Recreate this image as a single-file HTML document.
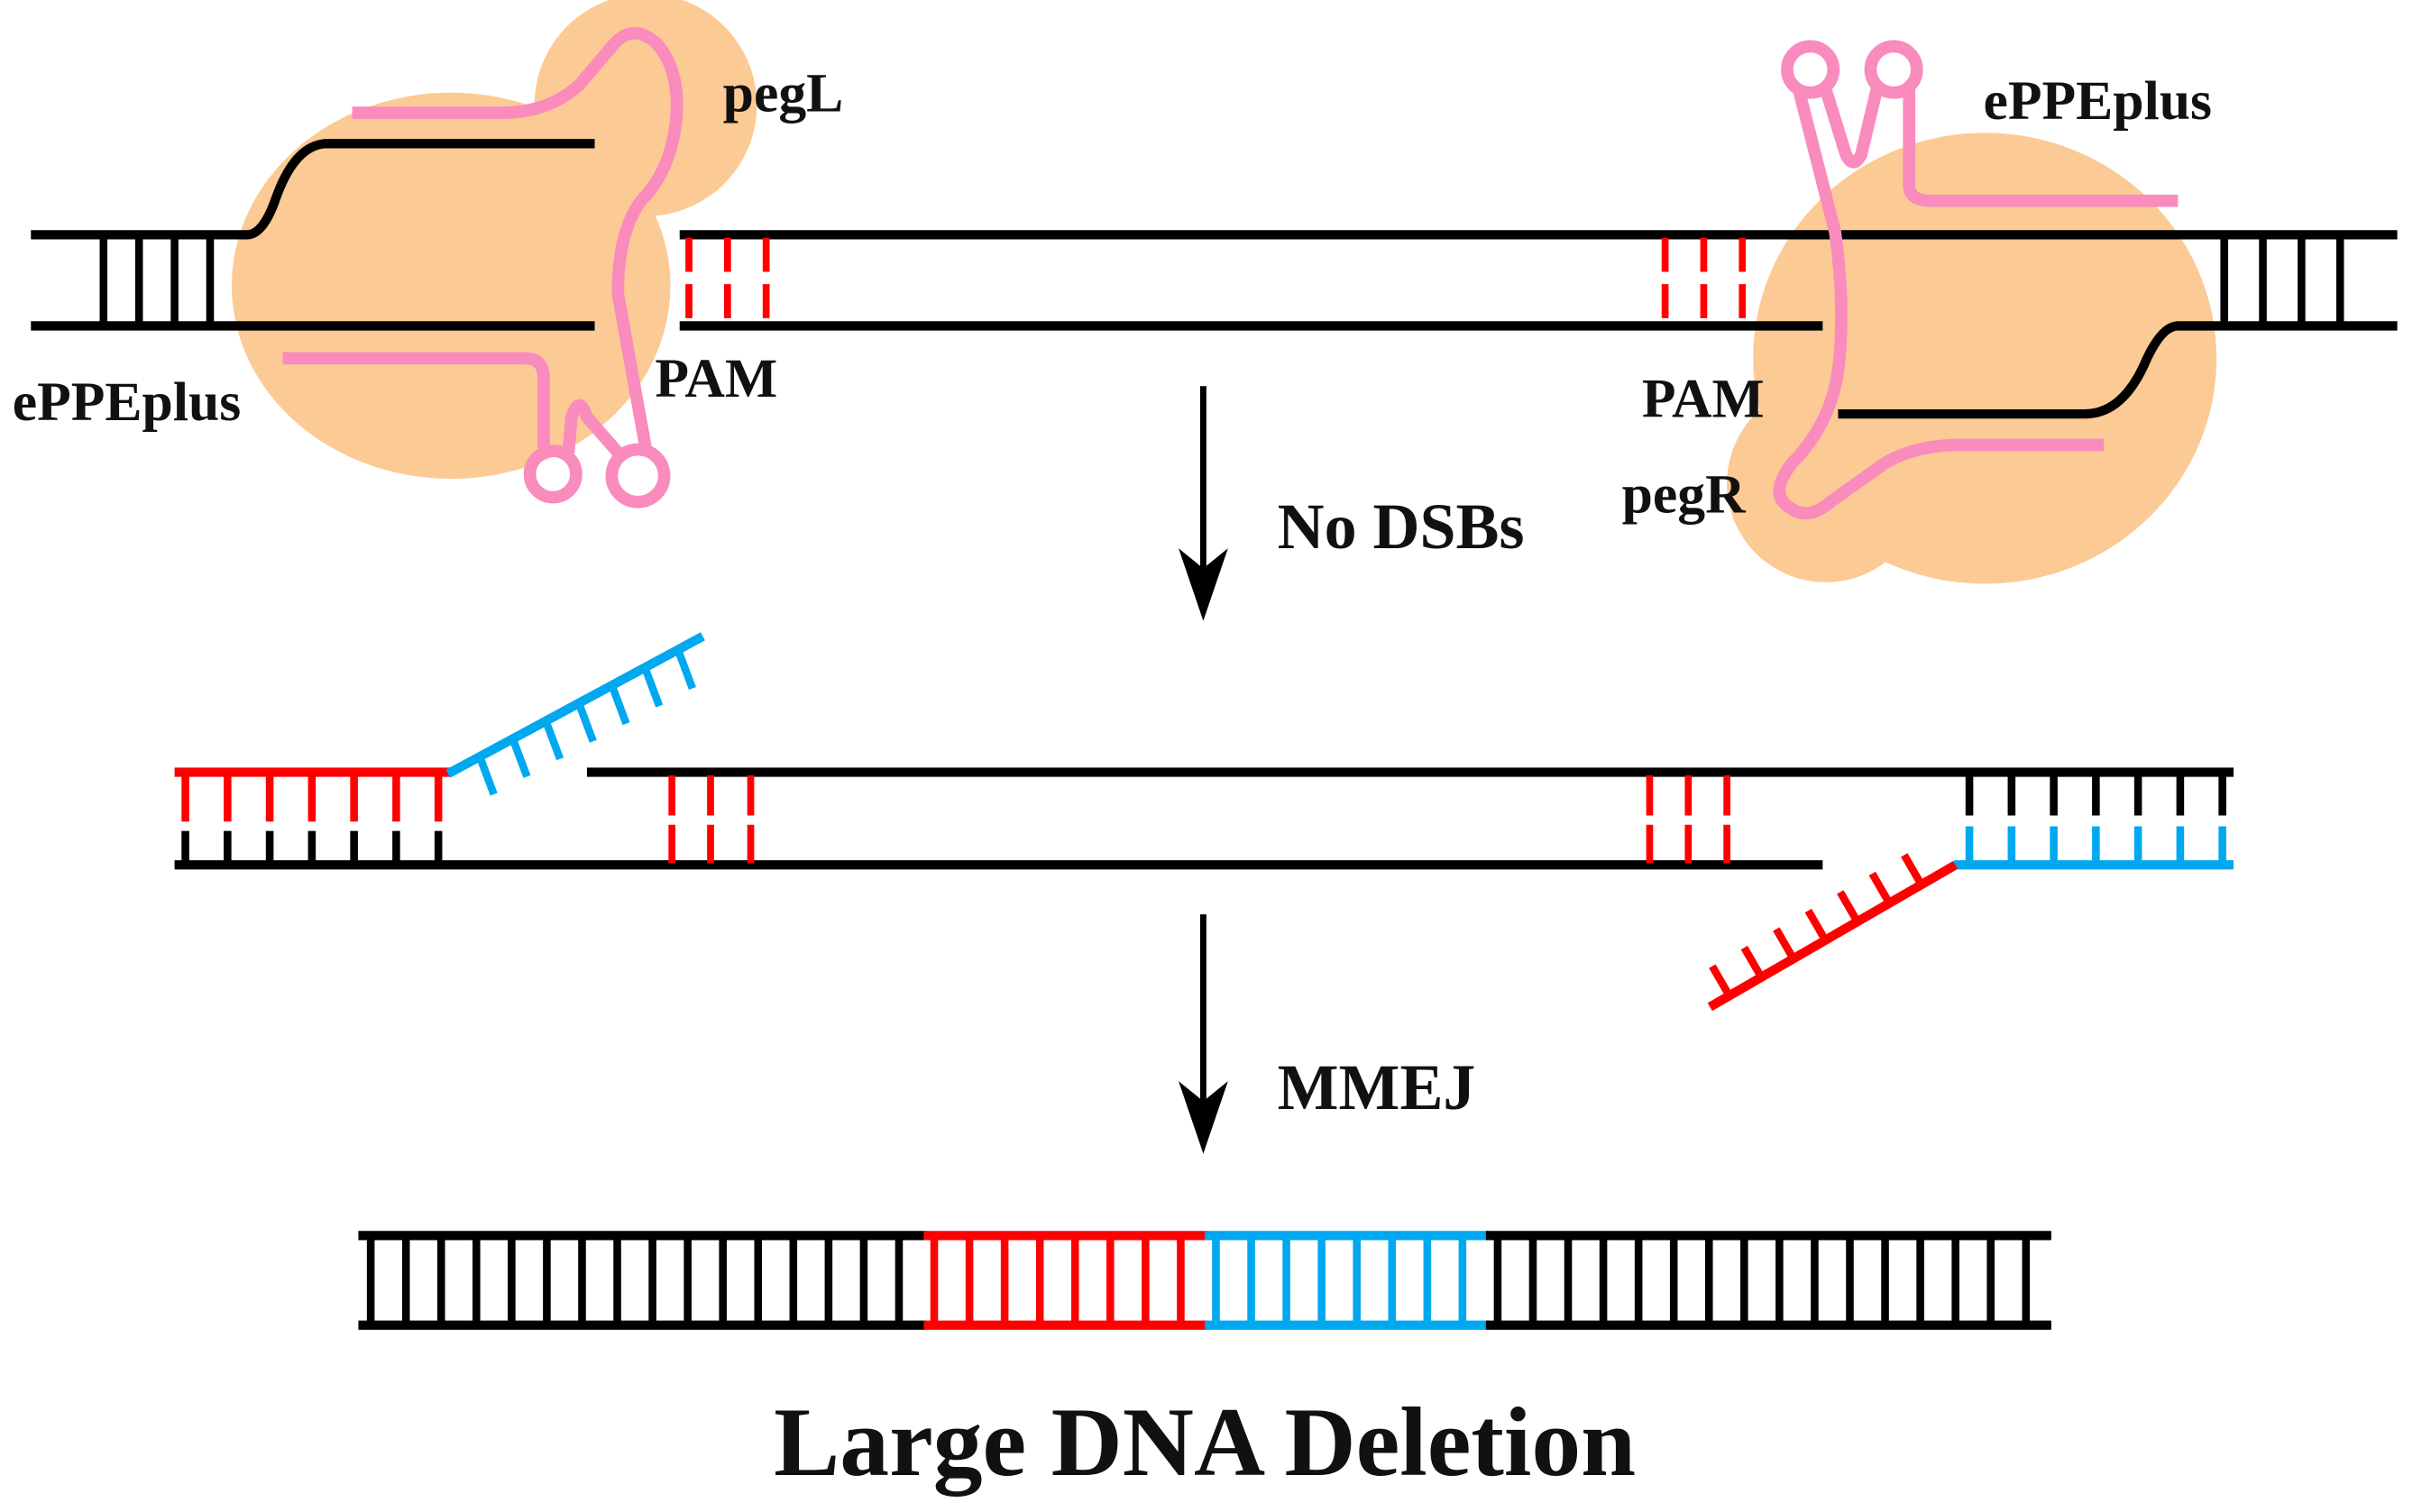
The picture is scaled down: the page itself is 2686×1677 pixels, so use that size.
<!DOCTYPE html>
<html><head><meta charset="utf-8"><style>
html,body{margin:0;padding:0;background:#fff;}
svg{display:block;}
text{font-family:"Liberation Serif",serif;font-weight:bold;fill:#111;}
</style></head><body>
<svg id="s" width="2686" height="1677" viewBox="0 0 1568 979" xmlns="http://www.w3.org/2000/svg">
<g fill="#FCCA94">
<ellipse cx="292" cy="185" rx="142" ry="125"/>
<circle cx="418" cy="68" r="72"/>
<ellipse cx="1285" cy="232" rx="150" ry="146"/>
<circle cx="1182" cy="313" r="64"/>
</g>
<g stroke="#000" stroke-width="6" fill="none">
<path d="M20 152 H160 Q170 152 178 130 Q190 95 210 93 H385"/>
<line x1="20" y1="211" x2="385" y2="211"/>
<line x1="440" y1="152" x2="1552" y2="152"/>
<line x1="440" y1="211" x2="1180" y2="211"/>
<path d="M1552 211 H1410 Q1400 211 1390 232 Q1375 268 1350 268 H1190"/>
</g>
<g id="toprungs" stroke="#000" stroke-width="5"></g>
<g stroke="#f00" stroke-width="4.5" stroke-dasharray="22,8">
<line x1="446" y1="154" x2="446" y2="210"/><line x1="471" y1="154" x2="471" y2="210"/><line x1="496" y1="154" x2="496" y2="210"/>
<line x1="1078" y1="154" x2="1078" y2="210"/><line x1="1103" y1="154" x2="1103" y2="210"/><line x1="1128" y1="154" x2="1128" y2="210"/>
</g>
<g stroke="#F98BBD" stroke-width="8" fill="none" stroke-linecap="butt">
<path d="M228 73 H325 Q355 73 375 55 L398 28 Q410 15 425 28 Q440 45 438 75 Q435 110 415 130 Q400 150 400 190 L418 290"/>
<path d="M183 232 H340 Q352 232 352 245 V290"/>
<circle cx="358" cy="307" r="15"/>
<path d="M368 293 L370 270 Q375 255 380 270 L400 293"/>
<circle cx="413" cy="308" r="17"/>
<path d="M1236 92 V120 Q1236 130 1250 130 H1410"/>
<circle cx="1172" cy="45" r="15"/>
<circle cx="1226" cy="45" r="15"/>
<path d="M1182 58 L1195 100 Q1200 110 1205 100 L1215 58"/>
<path d="M1236 58 V95"/>
<path d="M1165 60 L1188 150 Q1195 200 1190 240 Q1185 275 1160 300 Q1145 320 1158 328 Q1170 338 1185 325 L1220 300 Q1240 288 1270 288 H1362"/>
</g>
<text x="468" y="72" font-size="36">pegL</text>
<text x="1284" y="77" font-size="36">ePPEplus</text>
<text x="8" y="272" font-size="36">ePPEplus</text>
<text x="424" y="257" font-size="36">PAM</text>
<text x="1063" y="270" font-size="36">PAM</text>
<text x="1050" y="332" font-size="36">pegR</text>
<g stroke="#000" stroke-width="4"><line x1="779" y1="250" x2="779" y2="370"/><line x1="779" y1="592" x2="779" y2="715"/></g>
<path d="M763 355 L779 402 L795 355 L779 368Z" fill="#000"/>
<path d="M763 700 L779 747 L795 700 L779 713Z" fill="#000"/>
<text x="827" y="355" font-size="42">No DSBs</text>
<text x="827" y="718" font-size="42">MMEJ</text>
<g stroke-width="6" fill="none">
<line x1="113" y1="500" x2="292" y2="500" stroke="#f00"/>
<line x1="290" y1="501" x2="455" y2="412" stroke="#00A8F0"/>
<line x1="113" y1="560" x2="1180" y2="560" stroke="#000"/>
<line x1="380" y1="500" x2="1446" y2="500" stroke="#000"/>
<line x1="1265" y1="560" x2="1446" y2="560" stroke="#00A8F0"/>
<line x1="1266" y1="560" x2="1107" y2="652" stroke="#f00"/>
</g>
<g id="midrungs" stroke-width="5"></g>
<g stroke="#f00" stroke-width="4.5" stroke-dasharray="26,6">
<line x1="435" y1="502" x2="435" y2="559"/><line x1="460" y1="502" x2="460" y2="559"/><line x1="486" y1="502" x2="486" y2="559"/>
<line x1="1068" y1="502" x2="1068" y2="559"/><line x1="1093" y1="502" x2="1093" y2="559"/><line x1="1118" y1="502" x2="1118" y2="559"/>
</g>
<g stroke-width="6">
<line x1="232" y1="800" x2="600" y2="800" stroke="#000"/><line x1="232" y1="858" x2="600" y2="858" stroke="#000"/>
<line x1="598" y1="800" x2="782" y2="800" stroke="#f00"/><line x1="598" y1="858" x2="782" y2="858" stroke="#f00"/>
<line x1="780" y1="800" x2="964" y2="800" stroke="#00A8F0"/><line x1="780" y1="858" x2="964" y2="858" stroke="#00A8F0"/>
<line x1="962" y1="800" x2="1328" y2="800" stroke="#000"/><line x1="962" y1="858" x2="1328" y2="858" stroke="#000"/>
</g>
<g id="botrungs" stroke-width="5"></g>
<text x="780" y="955" font-size="64" text-anchor="middle">Large DNA Deletion</text>
</svg>
<script>
var NS="http://www.w3.org/2000/svg";
function L(g,x1,y1,x2,y2,c){var l=document.createElementNS(NS,"line");l.setAttribute("x1",x1);l.setAttribute("y1",y1);l.setAttribute("x2",x2);l.setAttribute("y2",y2);if(c)l.setAttribute("stroke",c);document.getElementById(g).appendChild(l);}
[67,90,113,136,1440,1465,1490,1515].forEach(function(x){L("toprungs",x,152,x,211);});
for(var i=0;i<7;i++){var x=120+i*27.3;L("midrungs",x,500,x,532,"#f00");L("midrungs",x,538,x,560,"#000");}
for(var i=0;i<7;i++){var x=1275+i*27.3;L("midrungs",x,500,x,528,"#000");L("midrungs",x,535,x,560,"#00A8F0");}
for(var i=0;i<7;i++){var t=(i+0.5)/7;var x=300+t*150,y=496-t*80;L("midrungs",x,y,x+9,y+24,"#00A8F0");}
for(var i=0;i<7;i++){var t=(i+0.3)/7;var x=1250-t*145,y=569+t*84;L("midrungs",x,y,x-11,y-19,"#f00");}
for(var x=240;x<1328;x+=22.8){var c=x<598?"#000":x<780?"#f00":x<962?"#00A8F0":"#000";L("botrungs",x,800,x,858,c);}
</script>
</body></html>
